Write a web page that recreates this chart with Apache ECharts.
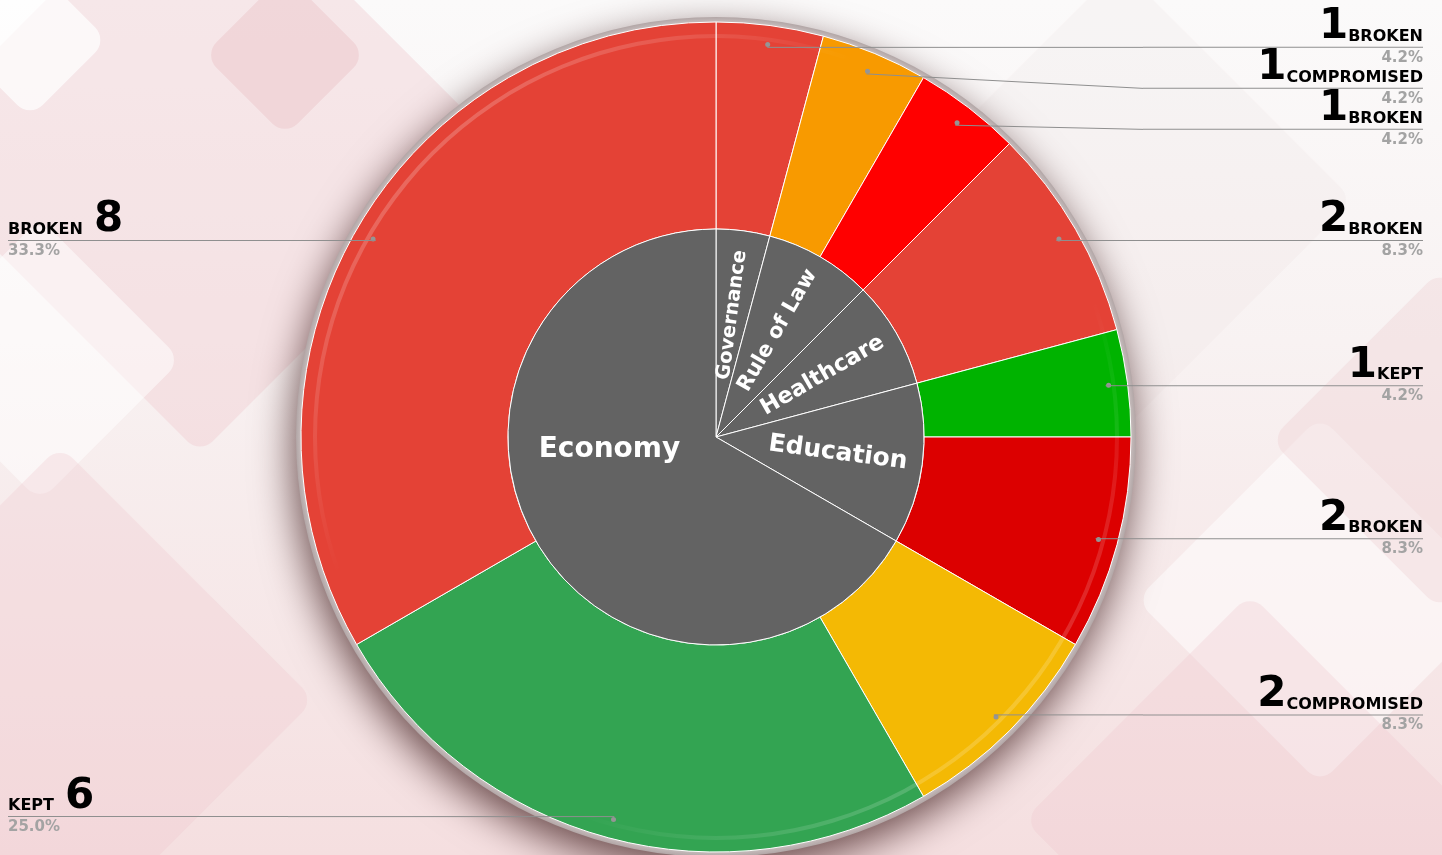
<!DOCTYPE html>
<html>
<head>
<meta charset="utf-8">
<script src="https://cdn.jsdelivr.net/npm/echarts@6/dist/echarts.min.js"></script>
<style>
html,body{margin:0;padding:0;}
#chart{width:1442px;height:855px;}
</style>
</head>
<body>
<div id="chart"></div>
<script>
// ---- data ----
const categories = ['Governance', 'Rule of Law', 'Healthcare', 'Education', 'Economy'];
const categoryValues = [1, 2, 2, 3, 16];
const statusNames = ['Broken', 'Compromised', 'Broken', 'Broken', 'Kept', 'Broken', 'Compromised', 'Kept', 'Broken'];
const statusValues = [1, 1, 1, 2, 1, 2, 2, 6, 8];
const statusColors = ['#e44236', '#f89a00', '#ff0000', '#e44236', '#00b300', '#dc0000', '#f4b904', '#33a452', '#e44236'];
const categoryFontSizes = [19.5, 21, 22.5, 25, 28];

const total = statusValues.reduce((a, b) => a + b, 0);
const CX = 716, CY = 437, R_LABEL = 393, LABEL_GAP = 41;
const FONT = 'DejaVu Sans';

// mid angle of each outer slice, side and label y (stacked so labels do not overlap)
let cum = 0;
const midAngles = statusValues.map(v => {
  const a = (90 - (cum + v / 2) / total * 360) * Math.PI / 180;
  cum += v;
  return a;
});
const sideLeft = midAngles.map(a => Math.cos(a) < 0);
const labelY = [];
let prevRight = -Infinity;
midAngles.forEach((a, i) => {
  const natural = CY - R_LABEL * Math.sin(a);
  if (sideLeft[i]) { labelY[i] = natural; return; }
  labelY[i] = Math.max(natural, prevRight + LABEL_GAP);
  prevRight = labelY[i];
});

const outerData = statusValues.map((v, i) => ({
  value: v, name: statusNames[i], itemStyle: { color: statusColors[i] }
}));

const labelData = statusValues.map((v, i) => {
  const pct = (v / total * 100).toFixed(1) + '%';
  const st = statusNames[i].toUpperCase();
  const left = sideLeft[i];
  return {
    value: v, name: statusNames[i],
    label: {
      edgeDistance: left ? 8 : 19,
      formatter: left
        ? '{st|' + st + '  }{num|' + v + '}\n{hr| }\n{pct|' + pct + '}'
        : '{num|' + v + '}{st|' + st + '}\n{hr| }\n{pct|' + pct + '}'
    }
  };
});

const innerData = categoryValues.map((v, i) => ({ value: v, name: categories[i] }));
const innerLabelData = categoryValues.map((v, i) => {
  const d = { value: v, name: categories[i], label: { fontSize: categoryFontSizes[i] } };
  if (categories[i] === 'Economy') {
    d.label.rotate = 0;
    d.label.offset = [0, -49];
  }
  return d;
});

// ---- background shapes ----
function diamond(x, y, s, color) {
  return {
    type: 'rect', x: x, y: y, rotation: Math.PI / 4, silent: true, z: 0,
    shape: { x: -s / 2, y: -s / 2, width: s, height: s, r: 18 },
    style: { fill: color }
  };
}

const chart = echarts.init(document.getElementById('chart'));
chart.setOption({
  animation: false,
  backgroundColor: {
    type: 'linear', x: 0, y: 0, x2: 0, y2: 1,
    colorStops: [
      { offset: 0, color: '#fbfafa' },
      { offset: 0.4, color: '#f8f2f2' },
      { offset: 1, color: '#f5dfe0' }
    ]
  },
  graphic: [
    diamond(200, 150, 430, 'rgba(238,200,204,0.38)'),
    diamond(285, 55, 115, 'rgba(235,195,200,0.45)'),
    diamond(30, 40, 110, 'rgba(255,255,255,0.7)'),
    diamond(40, 360, 200, 'rgba(255,255,255,0.5)'),
    diamond(60, 700, 360, 'rgba(238,200,205,0.3)'),
    diamond(1120, 200, 330, 'rgba(225,215,215,0.15)'),
    diamond(1320, 600, 260, 'rgba(255,255,255,0.5)'),
    diamond(1440, 440, 240, 'rgba(238,205,208,0.35)'),
    diamond(1250, 820, 320, 'rgba(238,200,205,0.3)')
  ],
  series: [
    {
      // rim + shadow
      type: 'pie', center: [CX, CY], radius: [0, 420], silent: true, z: 1,
      label: { show: false }, labelLine: { show: false },
      data: [{ value: 1, itemStyle: {
        color: { type: 'radial', x: 0.5, y: 0.5, r: 0.5, colorStops: [
          { offset: 0.965, color: '#ede6e6' }, { offset: 1, color: '#b2a6a6' } ] },
        shadowBlur: 40, shadowColor: 'rgba(60,25,25,0.75)', shadowOffsetX: -3, shadowOffsetY: 14
      } }]
    },
    {
      type: 'pie', center: [CX, CY], radius: [208, 415], silent: true, z: 2,
      startAngle: 90,
      itemStyle: { borderColor: '#ffffff', borderWidth: 1 },
      label: { show: false }, labelLine: { show: false },
      data: outerData
    },
    {
      // faint gloss arc near the rim
      type: 'pie', center: [CX, CY], radius: [399, 403], silent: true, z: 2,
      itemStyle: {
        color: { type: 'linear', x: 0, y: 0, x2: 1, y2: 1, colorStops: [
          { offset: 0, color: 'rgba(255,255,255,0.35)' },
          { offset: 0.35, color: 'rgba(255,255,255,0)' },
          { offset: 0.65, color: 'rgba(255,255,255,0)' },
          { offset: 1, color: 'rgba(255,255,255,0.3)' } ] }
      },
      label: { show: false }, labelLine: { show: false },
      data: [{ value: 1 }]
    },
    {
      type: 'pie', center: [CX, CY], radius: [0, 208], silent: true, z: 3,
      startAngle: 90,
      itemStyle: { color: '#636363', borderColor: '#ffffff', borderWidth: 1 },
      label: { show: false }, labelLine: { show: false },
      data: innerData
    },
    {
      // inner labels
      type: 'pie', center: [CX, CY], radius: [32, 208], silent: true, z: 4,
      startAngle: 90,
      itemStyle: { color: 'rgba(0,0,0,0)' },
      label: {
        show: true, position: 'inside', rotate: 'radial',
        color: '#ffffff', fontFamily: FONT, fontWeight: 'bold', fontSize: 21
      },
      labelLine: { show: false },
      data: innerLabelData
    },
    {
      // dots
      type: 'pie', center: [CX, CY], radius: [388, 398], silent: true, z: 5,
      startAngle: 90,
      itemStyle: { color: 'rgba(0,0,0,0)' },
      label: {
        show: true, position: 'inside', formatter: '{d| }',
        rich: { d: { width: 5, height: 5, fontSize: 1, borderRadius: 3, backgroundColor: '#959595' } }
      },
      labelLine: { show: false },
      data: statusValues.map((v, i) => ({ value: v, name: statusNames[i] }))
    },
    {
      // outer labels
      type: 'pie', center: [CX, CY], radius: [0, R_LABEL], silent: true, z: 6,
      startAngle: 90,
      itemStyle: { color: 'rgba(0,0,0,0)' },
      avoidLabelOverlap: true,
      label: {
        show: true, position: 'outside', alignTo: 'edge', distanceToLabelLine: 0,
        overflow: 'none', minMargin: 0,
        rich: {
          num: { fontFamily: FONT, fontWeight: 'bold', fontSize: 42, color: '#000', height: 1, lineHeight: 20, verticalAlign: 'top' },
          st: { fontFamily: FONT, fontWeight: 'bold', fontSize: 16, color: '#000', lineHeight: 20 },
          hr: { width: 280, height: 1, lineHeight: 1, fontSize: 1, backgroundColor: '#8f8f8f' },
          pct: { fontFamily: FONT, fontWeight: 'bold', fontSize: 15, color: '#a3a3a3', lineHeight: 20 }
        }
      },
      labelLine: { show: true, length: 0, length2: 0, smooth: false, lineStyle: { color: '#8f8f8f', width: 1 } },
      labelLayout: function (p) {
        const pts = p.labelLinePoints;
        if (!pts || pts.length < 2) return {};
        const y = labelY[p.dataIndex];
        const p0 = pts[0], pe = pts[pts.length - 1];
        return { y: y, labelLinePoints: [[p0[0], p0[1]], [pe[0], y]] };
      },
      data: labelData
    }
  ]
});
</script>
</body>
</html>
